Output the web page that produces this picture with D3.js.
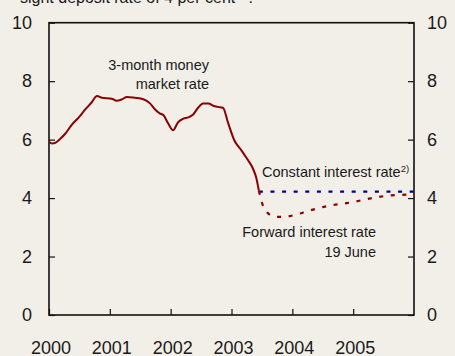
<!DOCTYPE html>
<html><head><meta charset="utf-8">
<script src="https://cdn.jsdelivr.net/npm/d3@7"></script>
<style>
html,body{margin:0;padding:0;background:#f2efe9;}
svg{display:block;}
text{font-family:"Liberation Sans",Arial,sans-serif;fill:#1a1a1a;}
</style></head><body>
<svg id="c" width="455" height="356"></svg>
<script>
// 3-month money market rate (decimal year, per cent)
const moneyTime = [2000.0,2000.05,2000.11,2000.19,2000.27,2000.38,2000.49,2000.60,2000.70,2000.79,2000.87,2001.03,2001.11,2001.20,2001.28,2001.41,2001.55,2001.66,2001.74,2001.82,2001.88,2001.96,2002.04,2002.12,2002.21,2002.29,2002.37,2002.45,2002.53,2002.62,2002.70,2002.78,2002.86,2002.94,2003.05,2003.16,2003.27,2003.35,2003.41,2003.45];
const moneyRate = [5.93,5.87,5.90,6.04,6.21,6.52,6.76,7.04,7.27,7.49,7.43,7.40,7.33,7.38,7.46,7.43,7.38,7.24,7.04,6.90,6.84,6.55,6.32,6.59,6.72,6.76,6.86,7.09,7.24,7.24,7.16,7.12,7.09,6.60,5.96,5.64,5.30,5.02,4.67,4.25];
// Forward interest rate 19 June
const fwdTime = [2003.45,2003.55,2003.72,2003.88,2004.07,2004.26,2004.46,2004.64,2004.83,2005.02,2005.21,2005.40,2005.60,2005.79,2005.96];
const fwdRate = [4.25,3.59,3.36,3.36,3.44,3.56,3.67,3.75,3.81,3.87,3.96,4.03,4.09,4.11,4.13];
// Constant interest rate
const constTime = [2003.45,2006.0];
const constRate = [4.22,4.22];
const yTicks = [0,2,4,6,8,10];
const xTicks = [2000,2001,2002,2003,2004,2005];

const svg = d3.select("#c");
const x = d3.scaleLinear().domain([2000,2006]).range([49,414]);
const y = d3.scaleLinear().domain([0,10]).range([315,22.7]);

// title fragment (cut off at top)
const t = svg.append("text").attr("x",20).attr("y",3).attr("font-size",16);
t.append("tspan").text("sight deposit rate of 4 per cent ");
t.append("tspan").attr("font-size",10).attr("dy",-6).text("2)");
t.append("tspan").attr("dy",6).text(".");

// frame
svg.append("rect").attr("x",x(2000)).attr("y",y(10)).attr("width",x(2006)-x(2000)).attr("height",y(0)-y(10))
  .attr("fill","none").attr("stroke","#111").attr("stroke-width",1.6);

// axes
const left = svg.append("g").attr("transform",`translate(${x(2000)},0)`)
  .call(d3.axisRight(y).tickValues(yTicks).tickSize(6).tickFormat(""));
const right = svg.append("g").attr("transform",`translate(${x(2006)},0)`)
  .call(d3.axisLeft(y).tickValues(yTicks).tickSize(6).tickFormat(""));
const bottom = svg.append("g").attr("transform",`translate(0,${y(0)})`)
  .call(d3.axisTop(x).tickValues(xTicks).tickSize(6).tickFormat(""));
[left,right,bottom].forEach(g=>{g.select(".domain").remove();g.selectAll("line").attr("stroke","#111").attr("stroke-width",1.2);});

svg.selectAll(".yl").data(yTicks).join("text").attr("class","yl")
  .attr("x",32).attr("y",d=>y(d)).attr("dy","0.35em").attr("text-anchor","end").attr("font-size",18).text(d=>d);
svg.selectAll(".yr").data(yTicks).join("text").attr("class","yr")
  .attr("x",427).attr("y",d=>y(d)).attr("dy","0.35em").attr("text-anchor","start").attr("font-size",18).text(d=>d);
svg.selectAll(".xl").data(xTicks).join("text").attr("class","xl")
  .attr("x",d=>x(d)+2).attr("y",354).attr("text-anchor","middle").attr("font-size",18).text(d=>d);

const line = d3.line().x(d=>x(d[0])).y(d=>y(d[1])).curve(d3.curveMonotoneX);

svg.append("path").datum(constTime.map((d,i)=>[d,constRate[i]])).attr("d",line)
  .attr("fill","none").attr("stroke","#000090").attr("stroke-width",2.2).attr("stroke-dasharray","4,7.6");
svg.append("path").datum(fwdTime.map((d,i)=>[d,fwdRate[i]])).attr("d",line)
  .attr("fill","none").attr("stroke","#8b0000").attr("stroke-width",2.2).attr("stroke-dasharray","4,7.6");
svg.append("path").datum(moneyTime.map((d,i)=>[d,moneyRate[i]])).attr("d",line)
  .attr("fill","none").attr("stroke","#8b0000").attr("stroke-width",2);

// labels
svg.append("text").attr("x",209).attr("y",70).attr("text-anchor","end").attr("font-size",14.5).text("3-month money");
svg.append("text").attr("x",209).attr("y",89).attr("text-anchor","end").attr("font-size",14.5).text("market rate");
const c = svg.append("text").attr("x",262).attr("y",177).attr("font-size",14.5);
c.append("tspan").text("Constant interest rate");
c.append("tspan").attr("font-size",9.5).attr("dy",-5).text("2)");
svg.append("text").attr("x",376).attr("y",237).attr("text-anchor","end").attr("font-size",14.5).text("Forward interest rate");
svg.append("text").attr("x",376).attr("y",257).attr("text-anchor","end").attr("font-size",14.5).text("19 June");
</script>
</body></html>
